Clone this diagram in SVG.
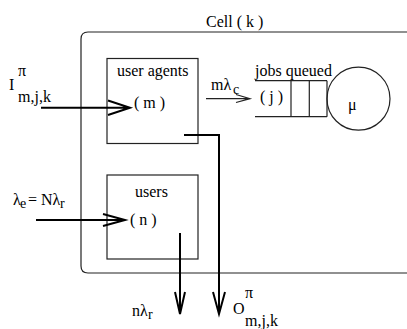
<svg xmlns="http://www.w3.org/2000/svg" width="407" height="329" viewBox="0 0 407 329">
<style>
text{font-family:"Liberation Serif","DejaVu Serif",serif;font-size:16px;fill:#000}
.sub{font-size:14px}
.box{fill:none;stroke:#222;stroke-width:1.2}
.thick{fill:none;stroke:#000;stroke-width:2}
.thin{fill:none;stroke:#222;stroke-width:1.2}
</style>
<rect width="407" height="329" fill="#fff"/>
<g id="cell">
<path class="thin" d="M407 32 H88 Q81 32 81 39 V266 Q81 273 88 273 H407"/>
<text x="206" y="27">Cell ( k )</text>
</g>
<g id="user-agents">
<rect class="box" x="107" y="58.5" width="91" height="85"/>
<text x="117" y="76">user agents</text>
<text x="134" y="108">( m )</text>
</g>
<g id="users">
<rect class="box" x="107" y="175" width="91" height="84"/>
<text x="135" y="197">users</text>
<text x="130" y="225">( n )</text>
</g>
<g id="queue">
<path class="thin" d="M255 80.7 H327 M255 116.7 H327 M291 80.7 V116.7 M309.3 80.7 V116.7 M327 80.7 V116.7"/>
<circle class="thin" cx="358.5" cy="98.7" r="31.5"/>
<text x="255" y="76">jobs queued</text>
<text x="260" y="102">( j )</text>
<text x="348" y="110">μ</text>
</g>
<g id="connectors">
<path class="thick" d="M41 107.7 H130 M108 100.5 L130 107.7 L108 115"/>
<path class="thick" d="M36 220 H125 M103 214 L125 220 L103 226"/>
<path class="thick" d="M184 135 H219 V314 M213 292 L219 314 L225 292"/>
<path class="thick" d="M180 233 V314 M175 292 L180 314 L185 292"/>
<path class="thin" d="M206 98.7 H250 M236 94.5 L250 98.7 L236 102.5"/>
</g>
<g id="labels">
<text x="9" y="90">I</text>
<text x="18" y="76">π</text>
<text x="18" y="101.5">m,j,k</text>
<text x="211" y="90">mλ</text>
<text class="sub" x="233" y="94">c</text>
<text x="13" y="205">λ</text>
<text class="sub" x="20" y="208">e</text>
<text x="28" y="205">= Nλ</text>
<text class="sub" x="60" y="208">r</text>
<text x="132" y="316">nλ</text>
<text class="sub" x="148" y="319">r</text>
<text x="233" y="314">O</text>
<text x="245" y="298">π</text>
<text x="245" y="325.5">m,j,k</text>
</g>
</svg>
